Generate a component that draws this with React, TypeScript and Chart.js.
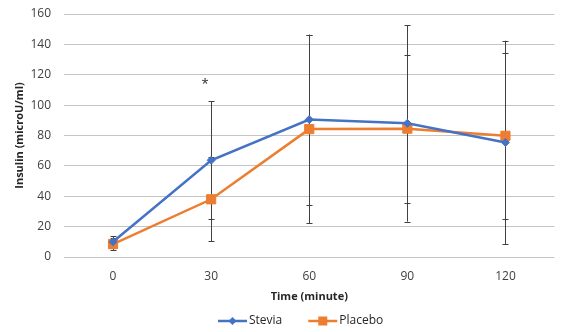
import React, { useEffect, useRef } from "react";
import { Chart, registerables } from "chart.js";

Chart.register(...registerables);

const categories = ["0", "30", "60", "90", "120"];
const steviaValues = [10, 63.7, 90.5, 88, 75.4];
const placeboValues = [8.5, 38, 84.2, 84.5, 79.8];
const steviaErrors = [3.8, 39, 56, 64.7, 67];
const placeboErrors = [4, 27.7, 62, 48.8, 54.5];
const yTicks = [0, 20, 40, 60, 80, 100, 120, 140, 160];
const significance = [{ category: "30", value: 116, text: "*" }];

const FONT = "'Open Sans', 'Liberation Sans', sans-serif";

const errorBarPlugin = {
  id: "errorBars",
  beforeDatasetsDraw(chart: any) {
    const { ctx, scales } = chart;
    const x = scales.x;
    const y = scales.y;
    const errs = [steviaErrors, placeboErrors];
    ctx.save();
    ctx.strokeStyle = "#404040";
    ctx.lineWidth = 1;
    chart.data.datasets.forEach((ds: any, di: number) => {
      ds.data.forEach((v: number, i: number) => {
        const e = errs[di][i];
        const px = Math.round(x.getPixelForValue(i)) + 0.5;
        const top = y.getPixelForValue(v + e);
        const bot = y.getPixelForValue(v - e);
        ctx.beginPath();
        ctx.moveTo(px, top);
        ctx.lineTo(px, bot);
        ctx.moveTo(px - 3, Math.round(top) + 0.5);
        ctx.lineTo(px + 3, Math.round(top) + 0.5);
        ctx.moveTo(px - 3, Math.round(bot) + 0.5);
        ctx.lineTo(px + 3, Math.round(bot) + 0.5);
        ctx.stroke();
      });
    });
    ctx.restore();
  },
  afterDatasetsDraw(chart: any) {
    const { ctx, scales } = chart;
    ctx.save();
    ctx.fillStyle = "#262626";
    ctx.font = `13px ${FONT}`;
    ctx.textAlign = "center";
    ctx.textBaseline = "middle";
    significance.forEach((s) => {
      const px = scales.x.getPixelForValue(categories.indexOf(s.category)) - 6;
      const py = scales.y.getPixelForValue(s.value);
      ctx.fillText(s.text, px, py + 3);
    });
    ctx.restore();
  },
};

const legendPlugin = {
  id: "customLegend",
  afterDraw(chart: any) {
    const { ctx } = chart;
    ctx.save();
    ctx.font = `12px ${FONT}`;
    ctx.textBaseline = "middle";
    const yPos = 321;
    let xPos = 218;
    chart.data.datasets.forEach((ds: any) => {
      ctx.strokeStyle = ds.borderColor;
      ctx.lineWidth = 2.5;
      ctx.beginPath();
      ctx.moveTo(xPos, yPos);
      ctx.lineTo(xPos + 29, yPos);
      ctx.stroke();
      ctx.fillStyle = ds.borderColor;
      const cx = xPos + 14.5;
      if (ds.pointStyle === "rect") {
        ctx.fillRect(cx - 4.5, yPos - 4.5, 9, 9);
      } else {
        ctx.beginPath();
        ctx.moveTo(cx - 4, yPos);
        ctx.lineTo(cx, yPos - 4);
        ctx.lineTo(cx + 4, yPos);
        ctx.lineTo(cx, yPos + 4);
        ctx.closePath();
        ctx.fill();
      }
      ctx.fillStyle = "#262626";
      ctx.fillText(ds.label, xPos + 31, yPos);
      xPos += 31 + ctx.measureText(ds.label).width + 26;
    });
    ctx.restore();
  },
};

export default function App() {
  const ref = useRef<HTMLCanvasElement>(null);
  useEffect(() => {
    if (!ref.current) return;
    const chart = new Chart(ref.current, {
      type: "line",
      data: {
        labels: categories,
        datasets: [
          {
            label: "Stevia",
            data: steviaValues,
            borderColor: "#4472C4",
            backgroundColor: "#4472C4",
            borderWidth: 2.5,
            pointStyle: "rectRot",
            pointRadius: 4,
            pointBorderWidth: 1,
            pointHoverRadius: 4,
            tension: 0,
          },
          {
            label: "Placebo",
            data: placeboValues,
            borderColor: "#ED7D31",
            backgroundColor: "#ED7D31",
            borderWidth: 2.5,
            pointStyle: "rect",
            pointRadius: 6.5,
            pointBorderWidth: 1,
            pointHoverRadius: 6.5,
            tension: 0,
          },
        ],
      },
      options: {
        responsive: false,
        animation: false,
        events: [],
        layout: { padding: { top: 14, right: 0, left: 0, bottom: 0 } },
        plugins: { legend: { display: false }, tooltip: { enabled: false } },
        scales: {
          x: {
            type: "category",
            offset: true,
            grid: { display: false, drawTicks: false },
            border: { display: false },
            ticks: { color: "#404040", font: { family: FONT, size: 12 }, padding: 12 },
            title: {
              display: true,
              text: "Time (minute)",
              color: "#262626",
              font: { family: FONT, size: 11, weight: "bold" },
              padding: { top: 0, bottom: 29 },
            },
            afterFit: (s: any) => {
              s.height = 75;
              s.paddingLeft = 0;
              s.paddingRight = 0;
            },
          },
          y: {
            min: 0,
            max: 160,
            afterBuildTicks: (s: any) => {
              s.ticks = yTicks.map((v) => ({ value: v }));
            },
            grid: { color: "#c4c4c4", lineWidth: 1, drawTicks: false },
            border: { display: false },
            ticks: { color: "#404040", font: { family: FONT, size: 12 }, padding: 13 },
            title: {
              display: true,
              text: "Insulin (microU/ml)",
              color: "#262626",
              font: { family: FONT, size: 11, weight: "bold" },
              padding: { top: 13, bottom: 0 },
            },
            afterFit: (s: any) => {
              s.width = 64;
              s.paddingTop = 0;
              s.paddingBottom = 0;
            },
          },
        },
      },
      plugins: [errorBarPlugin, legendPlugin],
    });
    return () => chart.destroy();
  }, []);
  return (
    <div style={{ position: "fixed", left: 0, top: 0, width: 562, height: 332, background: "#fff" }}>
      <canvas ref={ref} width={562} height={332} />
    </div>
  );
}
